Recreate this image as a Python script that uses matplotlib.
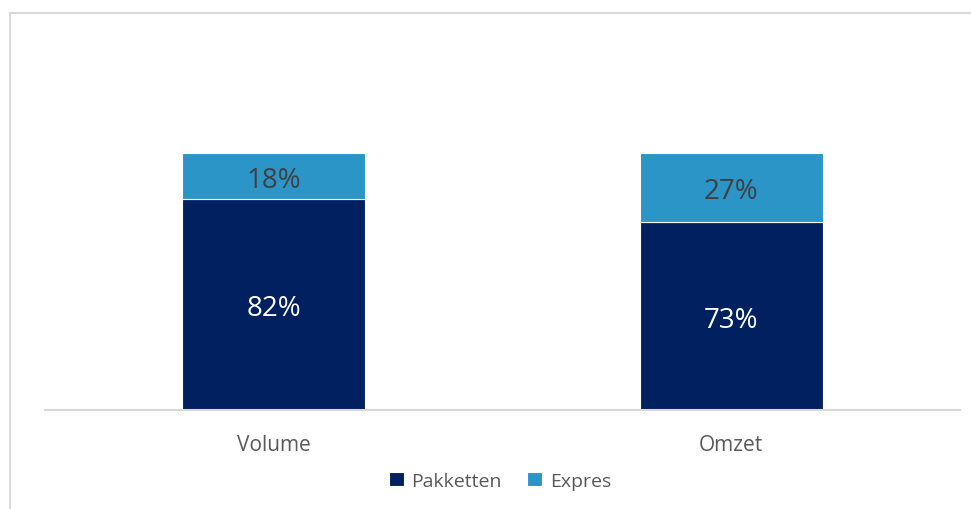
import matplotlib
matplotlib.use("Agg")
import matplotlib.pyplot as plt
from matplotlib.lines import Line2D

plt.rcParams['font.family'] = ['Open Sans', 'DejaVu Sans']

categories = ["Volume", "Omzet"]
pakketten = [0.82, 0.73]
expres = [0.18, 0.27]
series_names = ["Pakketten", "Expres"]

navy = "#002060"
blue = "#2B95C7"
grey_txt = "#595959"

fig = plt.figure(figsize=(9.71, 5.10), dpi=100)
ax = fig.add_axes([45 / 971, 99 / 510, 915 / 971, 308.4 / 510])

x = range(len(categories))
b1 = ax.bar(x, pakketten, width=0.4, color=navy, edgecolor="white", linewidth=0.8, label=series_names[0])
b2 = ax.bar(x, expres, width=0.4, bottom=pakketten, color=blue, edgecolor="white", linewidth=0.8, label=series_names[1])

for i in x:
    ax.text(i, pakketten[i] / 2, f"{round(pakketten[i]*100)}%", ha="center", va="center_baseline",
            color="white", fontsize=20)
    ax.text(i, pakketten[i] + expres[i] / 2, f"{round(expres[i]*100)}%", ha="center", va="center_baseline",
            color="#404040", fontsize=20)

ax.set_xlim(-0.5, 1.5)
ax.set_ylim(0, 1.2)
ax.set_xticks(list(x))
ax.set_xticklabels(categories, fontsize=15, color=grey_txt)
ax.tick_params(axis="x", length=0, pad=17)
ax.set_yticks([])
for s in ["top", "right", "left"]:
    ax.spines[s].set_visible(False)
ax.spines["bottom"].set_color("#d9d9d9")
ax.spines["bottom"].set_linewidth(1.5)

leg = fig.legend(handles=[b1, b2], loc="center", bbox_to_anchor=(500 / 971, 1 - 482 / 510),
                 ncol=2, frameon=False, fontsize=14, handlelength=0.75, handleheight=0.75,
                 handletextpad=0.4, columnspacing=1.3)
for t in leg.get_texts():
    t.set_color(grey_txt)

# outer chart frame (partly cropped in the original)
fig.add_artist(Line2D([9.5 / 971, 9.5 / 971], [0, 1 - 13.5 / 510], transform=fig.transFigure,
                      color="#d9d9d9", linewidth=1.5))
fig.add_artist(Line2D([9.5 / 971, 1], [1 - 13.5 / 510, 1 - 13.5 / 510], transform=fig.transFigure,
                      color="#d9d9d9", linewidth=1.5))

fig.savefig("out.png", dpi=100)
